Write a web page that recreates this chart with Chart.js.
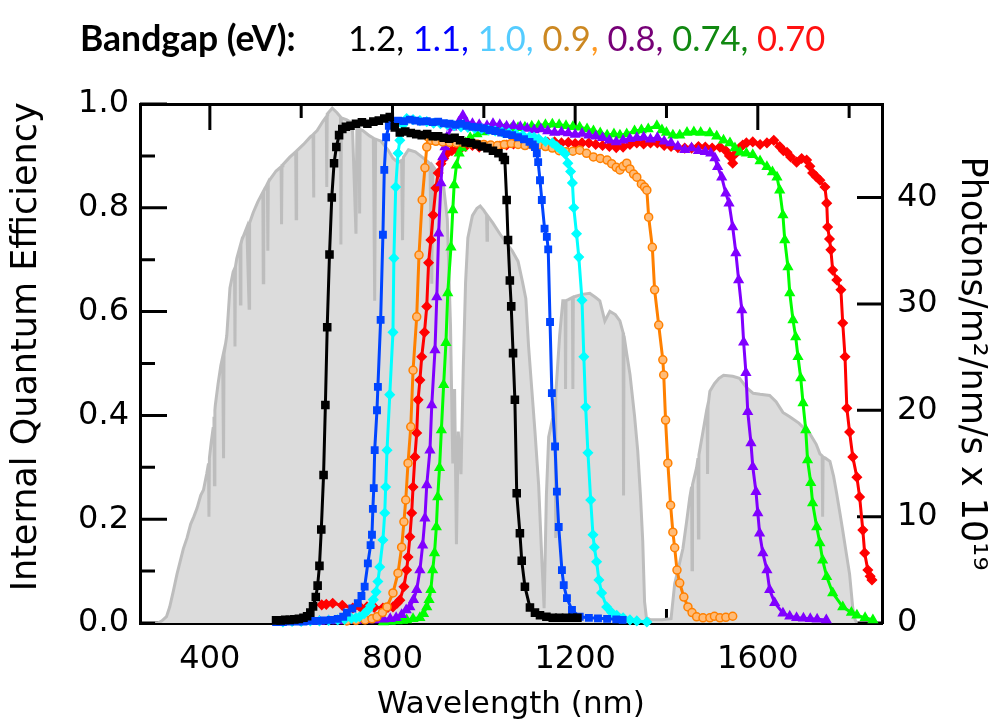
<!DOCTYPE html>
<html>
<head>
<meta charset="utf-8">
<script src="https://cdn.jsdelivr.net/npm/chart.js@4.4.1/dist/chart.umd.min.js"></script>
<style>
  html, body { margin: 0; padding: 0; background: #fff; }
  #wrap { position: relative; width: 1004px; height: 727px; }
  .hd { position: absolute; top: 18px; font-family: Lato, sans-serif; font-size: 34.5px; line-height: 40px; white-space: nowrap; }
</style>
</head>
<body>
<div id="wrap">
  <canvas id="chart" width="1004" height="727"></canvas>
  <div class="hd" style="left:80px;font-weight:bold;font-size:35.5px;">Bandgap (eV):</div>
  <div class="hd" style="left:348px;">
    <span style="color:#000">1.2,</span>
    <span style="color:#0000ff">1.1,</span>
    <span style="color:#55ccff">1.0,</span>
    <span style="color:#cc8822">0.9</span><span style="color:#ff9922">,</span>
    <span style="color:#770077">0.8,</span>
    <span style="color:#118811">0.74,</span>
    <span style="color:#ff1111">0.70</span>
  </div>
</div>
<script>
// axis ticks
var wavelengthTicks = [400, 800, 1200, 1600];
var wavelengthMinor = [600, 1000, 1400, 1800];
var iqeTicks = [0, 0.2, 0.4, 0.6, 0.8, 1.0];
var iqeMinor = [0.1, 0.3, 0.5, 0.7, 0.9];
var photonTicks = [0, 10, 20, 30, 40];

// 1.2 eV
var blackNm = [545,555,565,575,585,595,605,613,620,626, 632,636,640,644,649,653,657,662,667,672,
  677,683,690,698,708,720,733,745,758,770, 782,794,805,816,828,840,852,864,876,888,
  900,912,924,936,948,960,972,984,996,1008, 1020,1032,1042,1046,1050,1053,1057,1060,1064,1068,
  1072,1079,1083,1090,1101,1112,1123,1137,1151,1165, 1180,1195,1205];
var blackIqe = [0.005,0.005,0.006,0.006,0.007,0.008,0.010,0.013,0.020,0.032, 0.050,0.072,0.110,0.180,0.285,0.420,0.570,0.710,0.820,0.886,
  0.917,0.940,0.952,0.956,0.958,0.962,0.965,0.962,0.966,0.968, 0.972,0.975,0.955,0.945,0.947,0.944,0.942,0.940,0.942,0.938,
  0.938,0.935,0.933,0.935,0.930,0.926,0.925,0.922,0.918,0.915, 0.910,0.905,0.898,0.892,0.815,0.738,0.660,0.610,0.520,0.430,
  0.250,0.173,0.120,0.070,0.030,0.020,0.015,0.012,0.010,0.010, 0.010,0.010,0.010];

// 1.1 eV
var blueNm = [545,560,575,590,605,620,635,650,665,680, 692,700,712,724,732,739,746,752,755,757,
  759,761,766,768,774,779,782,786,792,800, 812,825,838,850,862,875,888,900,912,925,
  938,950,962,975,988,1000,1012,1025,1038,1050, 1062,1075,1088,1100,1107,1112,1116,1119,1123,1127,
  1133,1138,1141,1145,1149,1156,1160,1164,1171,1175, 1182,1193,1210,1230,1250,1270,1290,1304];
var blueIqe = [0.002,0.002,0.003,0.003,0.003,0.004,0.004,0.005,0.006,0.008, 0.012,0.020,0.028,0.038,0.052,0.070,0.115,0.150,0.170,0.220,
  0.260,0.333,0.410,0.455,0.584,0.748,0.873,0.936,0.958,0.965, 0.968,0.967,0.970,0.968,0.966,0.967,0.965,0.966,0.963,0.962,
  0.960,0.962,0.958,0.956,0.955,0.953,0.950,0.948,0.945,0.942, 0.940,0.936,0.932,0.927,0.922,0.917,0.905,0.888,0.853,0.815,
  0.760,0.744,0.720,0.580,0.443,0.340,0.253,0.185,0.102,0.073, 0.048,0.025,0.012,0.010,0.009,0.008,0.007,0.006];

// 1.0 eV
var cyanNm = [560,580,600,620,640,660,680,695,710,720, 728,738,746,752,758,764,768,772,779,783,
  785,788,794,801,803,807,812,816,823,831, 845,860,875,890,905,920,935,950,965,980,
  995,1010,1025,1040,1055,1070,1085,1100,1110,1120, 1135,1150,1160,1170,1178,1184,1190,1194,1197,1203,
  1208,1215,1219,1223,1228,1234,1239,1242,1247,1252, 1258,1269,1280,1291,1305,1320,1335,1357];
var cyanIqe = [0.002,0.003,0.003,0.004,0.004,0.005,0.006,0.007,0.009,0.010, 0.012,0.018,0.025,0.033,0.045,0.060,0.080,0.108,0.160,0.212,
  0.262,0.333,0.440,0.560,0.703,0.840,0.905,0.930,0.960,0.972, 0.970,0.968,0.966,0.963,0.962,0.960,0.958,0.956,0.955,0.953,
  0.952,0.950,0.948,0.946,0.944,0.942,0.940,0.937,0.936,0.933, 0.928,0.925,0.918,0.911,0.904,0.886,0.870,0.848,0.800,0.750,
  0.705,0.622,0.513,0.416,0.328,0.237,0.170,0.146,0.118,0.083, 0.058,0.031,0.020,0.015,0.010,0.006,0.004,0.002];

// 0.9 eV
var orangeNm = [700,720,740,755,766,778,788,801,812,820, 825,829,834,840,845,853,858,865,871,875,
  878,885,895,910,925,940,955,970,985,1000, 1015,1030,1045,1060,1075,1090,1105,1120,1135,1150,
  1165,1180,1195,1210,1225,1240,1255,1270,1280,1290, 1298,1305,1313,1320,1328,1335,1345,1352,1357,1361,
  1369,1374,1383,1392,1394,1398,1403,1409,1414,1418, 1423,1429,1438,1447,1456,1466,1480,1495,1505,1517,
  1530,1545];
var orangeIqe = [0.004,0.005,0.006,0.008,0.012,0.020,0.031,0.058,0.096,0.146, 0.195,0.237,0.308,0.378,0.487,0.590,0.709,0.815,0.877,0.917,
  0.936,0.930,0.928,0.927,0.926,0.925,0.925,0.924,0.923,0.922, 0.921,0.920,0.922,0.924,0.922,0.920,0.921,0.921,0.918,0.915,
  0.910,0.908,0.909,0.911,0.905,0.898,0.895,0.892,0.885,0.878, 0.873,0.880,0.886,0.875,0.865,0.859,0.846,0.840,0.834,0.782,
  0.724,0.642,0.574,0.507,0.478,0.391,0.308,0.227,0.175,0.145, 0.102,0.077,0.050,0.031,0.020,0.012,0.010,0.010,0.013,0.010,
  0.011,0.013];

// 0.8 eV
var purpleNm = [600,620,640,660,680,700,720,740,760,780, 795,808,820,830,838,846,853,860,866,871,
  875,882,886,893,897,901,906,910,915,919, 930,945,954,962,975,990,1007,1020,1035,1050,
  1065,1080,1095,1110,1125,1140,1155,1170,1185,1200, 1215,1230,1245,1260,1275,1290,1305,1320,1335,1350,
  1365,1380,1395,1410,1425,1440,1455,1470,1485,1497, 1506,1512,1521,1530,1537,1545,1552,1558,1565,1569,
  1574,1578,1585,1589,1596,1600,1604,1611,1620,1626, 1637,1655,1670,1685,1700,1715,1730,1750];
var purpleIqe = [0.003,0.003,0.003,0.004,0.004,0.005,0.005,0.006,0.006,0.007, 0.008,0.010,0.016,0.025,0.031,0.045,0.064,0.102,0.150,0.202,
  0.266,0.333,0.420,0.526,0.628,0.751,0.848,0.898,0.917,0.936, 0.955,0.965,0.978,0.965,0.962,0.960,0.958,0.962,0.960,0.957,
  0.958,0.956,0.953,0.950,0.952,0.948,0.945,0.946,0.944,0.941, 0.943,0.940,0.938,0.935,0.930,0.927,0.930,0.933,0.935,0.936,
  0.932,0.935,0.928,0.925,0.918,0.912,0.915,0.910,0.908,0.905, 0.896,0.879,0.859,0.828,0.809,0.763,0.713,0.661,0.603,0.541,
  0.482,0.407,0.347,0.301,0.253,0.212,0.173,0.135,0.102,0.064, 0.039,0.019,0.013,0.010,0.009,0.008,0.007,0.006];

// 0.74 eV
var greenNm = [780,795,810,822,831,845,860,868,875,880, 884,888,892,896,899,903,907,912,917,921,
  928,932,935,940,946,952,960,970,985,1000, 1015,1030,1045,1060,1075,1090,1105,1120,1135,1150,
  1165,1180,1195,1210,1226,1240,1255,1270,1285,1298, 1313,1330,1345,1360,1379,1390,1400,1414,1429,1445,
  1460,1475,1495,1510,1525,1539,1550,1561,1575,1589, 1605,1620,1632,1642,1648,1655,1659,1666,1670,1677,
  1683,1688,1694,1699,1705,1709,1716,1720,1729,1736, 1742,1751,1764,1786,1805,1817,1835,1852];
var greenIqe = [0.002,0.003,0.004,0.005,0.006,0.008,0.010,0.018,0.031,0.045, 0.064,0.102,0.135,0.185,0.243,0.299,0.372,0.459,0.540,0.636,
  0.724,0.796,0.844,0.882,0.905,0.915,0.925,0.935,0.942,0.946, 0.948,0.950,0.952,0.953,0.954,0.955,0.957,0.958,0.960,0.961,
  0.960,0.958,0.956,0.955,0.952,0.948,0.944,0.940,0.942,0.940, 0.942,0.948,0.950,0.952,0.958,0.950,0.945,0.940,0.940,0.945,
  0.946,0.945,0.944,0.938,0.930,0.925,0.915,0.907,0.905,0.902, 0.890,0.879,0.869,0.859,0.834,0.786,0.738,0.686,0.636,0.584,
  0.551,0.513,0.472,0.424,0.372,0.314,0.270,0.231,0.185,0.154, 0.121,0.089,0.058,0.031,0.020,0.015,0.010,0.006];

// 0.70 eV
var redNm = [645,655,669,690,713,730,744,760,779,790, 801,810,816,825,831,834,838,842,845,849,
  853,856,860,864,870,875,879,884,889,895, 900,906,912,920,930,940,950,960,975,990,
  1005,1020,1035,1050,1065,1079,1095,1110,1125,1140, 1155,1170,1185,1200,1215,1230,1245,1260,1275,1290,
  1305,1320,1335,1350,1365,1380,1395,1410,1425,1440, 1455,1470,1485,1500,1517,1530,1538,1545,1552,1560,
  1567,1575,1589,1605,1620,1635,1648,1656,1664,1672, 1685,1696,1707,1714,1720,1728,1736,1747,1751,1753,
  1757,1760,1764,1773,1782,1786,1791,1795,1801,1808, 1817,1823,1830,1834,1841,1846,1850];
var redIqe = [0.035,0.036,0.038,0.034,0.029,0.030,0.031,0.030,0.029,0.030, 0.031,0.038,0.044,0.070,0.102,0.127,0.166,0.212,0.262,0.320,
  0.366,0.430,0.468,0.513,0.560,0.610,0.694,0.738,0.786,0.838, 0.867,0.885,0.895,0.905,0.910,0.912,0.915,0.918,0.920,0.917,
  0.918,0.917,0.919,0.921,0.923,0.925,0.923,0.925,0.927,0.926, 0.927,0.925,0.926,0.924,0.925,0.925,0.922,0.920,0.918,0.916,
  0.917,0.922,0.925,0.923,0.925,0.925,0.920,0.918,0.916,0.915, 0.915,0.918,0.917,0.915,0.917,0.910,0.900,0.886,0.905,0.915,
  0.921,0.925,0.927,0.922,0.925,0.930,0.918,0.910,0.907,0.898, 0.888,0.895,0.892,0.880,0.867,0.860,0.853,0.840,0.809,0.763,
  0.740,0.719,0.680,0.661,0.642,0.578,0.513,0.414,0.368,0.320, 0.281,0.243,0.179,0.135,0.102,0.090,0.083];

// solar photon flux [nm, photons/m2/nm/s x 10^19] (right axis)
var sunSpectrum = [
  [280,0],[286,0],[295,0.2],[305,0.6],[312,1.5],[320,3],[328,4.6],[335,5.8],[342,7],[350,8],
  [358,9.3],[365,10],[372,10.8],[380,12],[386,12.5],[393,14],[397,15],[398,10],[399,15.5],[403,17],
  [407,18.3],[409,19.4],[410,13],[411,20],[412,20.5],[418,22.5],[424,24.2],[428,25],[430,15.5],[431,25.3],
  [437,27],[444,31.5],[451,33],[454,33.3],[455,26],[456,33.5],[459,34.3],[466,35.4],[467,30],[468,35.6],
  [470,36],[481,37.2],[486,29.6],[487,37.6],[495,38.6],[505,39.6],[516,40.5],[517,32],[518,40.6],
  [526,41.3],[527,35],[528,41.4],[530,41.6],[545,42.5],[556,42.9],[557,37.5],[558,43],[560,43.1],[575,43.8],
  [588,44.3],[589,38],[590,44.4],[605,45],[620,45.7],[626,45.9],[627,40],[628,46],[635,46.3],[648,47.2],
  [655,47.6],[656,41],[657,47.8],[658,47.9],[668,48.4],[678,48],[686,47.6],[687,35.6],[688,47.5],[700,47.3],
  [712,47],[720,36.6],[722,46.6],[727,46.4],[728,38.5],[729,46.4],[735,46.3],[750,45.8],[758,45.6],[761,30.3],
  [763,45.5],[775,45.3],[790,44.5],[801,43.7],[812,43.3],[820,43.5],[822,36],[824,43.8],[835,44.5],[850,44.3],
  [865,43.8],[882,43.2],[886,31.9],[888,43],[900,42.3],[912,41],[920,38],[927,28],[932,15],[936,22],
  [940,7.4],[944,18],[950,14],[955,24],[960,32],[965,36.2],[975,38.3],[985,39],[992,39.2],[1000,38.8],
  [1006,38.4],[1007,36],[1008,38.3],[1020,37.6],[1035,36.6],[1050,35.7],[1062,35],[1075,34],[1085,32],[1092,30.5],
  [1098,26],[1105,22],[1112,18],[1120,13],[1127,6],[1132,1.4],[1137,12],[1142,17.5],[1151,19.3],[1156,21],
  [1157,8],[1158,21.5],[1166,27],[1173,30.3],[1178,30.3],[1179,22],[1180,30.3],[1185,30.4],[1194,30.6],[1195,22],
  [1196,30.6],[1200,30.7],[1215,30.9],[1232,31],[1245,30.6],[1254,30.3],[1265,28.4],[1276,29.3],[1288,29],[1298,28.4],
  [1305,27.3],[1306,12],[1307,27],[1313,25.3],[1320,23.4],[1330,19.5],[1337,16.2],[1343,12],[1348,7.7],[1352,2],
  [1356,0.5],[1365,0.3],[1390,0.3],[1410,0.4],[1418,3.7],[1428,5.5],[1436,7],[1444,9.5],[1451,11.8],[1455,12.8],
  [1456,5],[1457,13],[1466,14.6],[1469,15.5],[1470,8],[1471,15.8],[1473,16.3],[1480,18],[1488,20],[1489,20.2],
  [1490,14],[1491,20.4],[1495,21.8],[1505,22.5],[1515,23],[1525,23.3],[1545,23.2],[1560,23],[1576,22.1],[1590,21.6],
  [1605,21.5],[1626,21.4],[1640,20.8],[1655,19.8],[1670,19.4],[1690,18.8],[1714,17.8],[1728,16.8],[1736,15.9],[1741,15.7],
  [1742,10],[1743,15.6],[1748,15.5],[1758,15.2],[1766,13.8],[1773,12.1],[1780,10.3],[1786,8.7],[1794,6.5],[1801,4.6],
  [1808,1.4],[1813,0.3],[1817,0]
];

function pts(xs, ys) {
  return xs.map(function (x, i) { return {x: x, y: ys[i]}; });
}

function curve(xs, ys, color, style, radius, fill) {
  return {
    data: pts(xs, ys),
    yAxisID: 'y',
    borderColor: color,
    borderWidth: 3,
    pointStyle: style,
    pointRadius: radius,
    pointBackgroundColor: fill || color,
    pointBorderColor: color,
    pointBorderWidth: 1.5,
    clip: 8
  };
}

var tickFont = {family: 'DejaVu Sans', size: 32};
var sideFont = {family: 'DejaVu Sans', size: 35};
var bottomFont = {family: 'DejaVu Sans', size: 31};

var innerTicks = {
  id: 'innerTicks',
  beforeDatasetsDraw: function (chart) {
    var ctx = chart.ctx, a = chart.chartArea, s = chart.scales;
    ctx.save();
    ctx.strokeStyle = '#000';
    ctx.lineWidth = 3;
    ctx.beginPath();
    function xt(vals, len) {
      vals.forEach(function (v) {
        var px = s.x.getPixelForValue(v);
        ctx.moveTo(px, a.bottom); ctx.lineTo(px, a.bottom - len);
        ctx.moveTo(px, a.top); ctx.lineTo(px, a.top + len);
      });
    }
    xt(wavelengthTicks, 26);
    xt(wavelengthMinor, 14);
    iqeTicks.forEach(function (v) {
      var py = s.y.getPixelForValue(v);
      ctx.moveTo(a.left, py); ctx.lineTo(a.left + 27, py);
    });
    iqeMinor.forEach(function (v) {
      var py = s.y.getPixelForValue(v);
      ctx.moveTo(a.left, py); ctx.lineTo(a.left + 15, py);
    });
    photonTicks.forEach(function (v) {
      var py = s.y1.getPixelForValue(v);
      ctx.moveTo(a.right, py); ctx.lineTo(a.right - 25, py);
    });
    ctx.stroke();
    ctx.restore();
  }
};

var xMin = 247, xMax = 1872;
var border = {display: true, color: '#000', width: 3};

new Chart(document.getElementById('chart'), {
  type: 'line',
  data: {
    datasets: [
      curve(blackNm, blackIqe, '#000000', 'rect', 5),
      curve(blueNm, blueIqe, '#0044ff', 'rect', 4.5),
      curve(cyanNm, cyanIqe, '#00ffff', 'rectRot', 4.5),
      curve(orangeNm, orangeIqe, '#ff8000', 'circle', 4, '#ffbb77'),
      curve(purpleNm, purpleIqe, '#8000ff', 'triangle', 5),
      curve(greenNm, greenIqe, '#00ff00', 'triangle', 5),
      curve(redNm, redIqe, '#ff0000', 'rectRot', 4.5),
      {
        data: sunSpectrum.map(function (p) { return {x: p[0], y: p[1]}; }),
        yAxisID: 'y1',
        borderColor: '#bdbdbd',
        borderWidth: 3,
        backgroundColor: '#dcdcdc',
        fill: 'origin',
        pointRadius: 0
      }
    ]
  },
  options: {
    responsive: false,
    animation: false,
    devicePixelRatio: 1,
    layout: {padding: 0},
    elements: {line: {tension: 0}},
    plugins: {legend: {display: false}, tooltip: {enabled: false}},
    scales: {
      x: {
        type: 'linear', position: 'bottom', min: xMin, max: xMax,
        afterBuildTicks: function (ax) { ax.ticks = wavelengthTicks.map(function (v) { return {value: v}; }); },
        afterFit: function (ax) { ax.height = 104; },
        grid: {display: false, drawTicks: false},
        border: border,
        ticks: {font: tickFont, color: '#000', padding: 17, maxRotation: 0, autoSkip: false,
          callback: function (v) { return String(v); }},
        title: {display: true, text: 'Wavelength (nm)', font: bottomFont, color: '#000', padding: {top: 0, bottom: 3}}
      },
      x2: {
        type: 'linear', position: 'top', min: xMin, max: xMax,
        afterBuildTicks: function (ax) { ax.ticks = wavelengthTicks.map(function (v) { return {value: v}; }); },
        afterFit: function (ax) { ax.height = 104; },
        grid: {display: false, drawTicks: false},
        border: border,
        ticks: {display: false}
      },
      y: {
        type: 'linear', position: 'left', min: 0, max: 1,
        afterBuildTicks: function (ax) { ax.ticks = iqeTicks.map(function (v) { return {value: v}; }); },
        afterFit: function (ax) { ax.width = 140; },
        grid: {display: false, drawTicks: false},
        border: border,
        ticks: {font: tickFont, color: '#000', padding: 11, callback: function (v) { return v.toFixed(1); }},
        title: {display: true, text: '   Internal Quantum Efficiency', font: sideFont, color: '#000', padding: {top: 6, bottom: 0}}
      },
      y1: {
        type: 'linear', position: 'right', min: 0, max: 48.8,
        afterBuildTicks: function (ax) { ax.ticks = photonTicks.map(function (v) { return {value: v}; }); },
        afterFit: function (ax) { ax.width = 122; },
        grid: {display: false, drawTicks: false},
        border: border,
        ticks: {font: tickFont, color: '#000', padding: 15, callback: function (v) { return String(v); }},
        title: {display: true, text: 'Photons/m\u00b2/nm/s x 10\u00b9\u2079', font: sideFont, color: '#000', padding: {top: 12, bottom: 0}}
      }
    }
  },
  plugins: [innerTicks]
});
</script>
</body>
</html>
